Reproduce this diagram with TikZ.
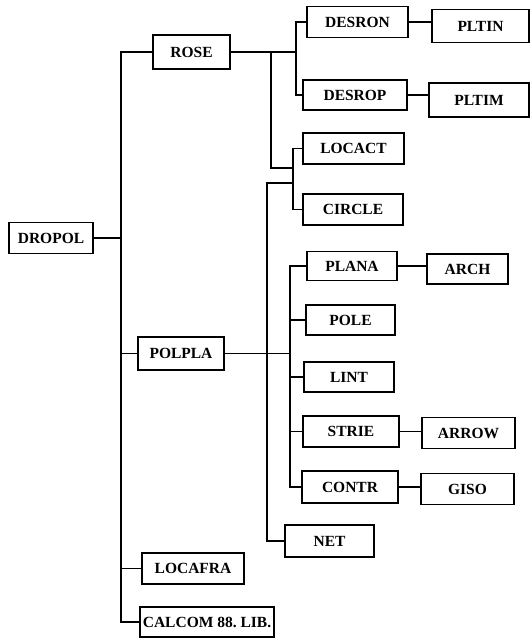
\documentclass[tikz,border=0pt]{standalone}
\usepackage{fontspec}
\setmainfont{Liberation Serif}
\usetikzlibrary{positioning,calc}

\begin{document}
\begin{tikzpicture}[x=1pt,y=-1pt,line width=1.6pt,
 prog/.style={draw,inner sep=0pt,minimum height=31pt,font=\fontsize{15.5}{18}\selectfont\bfseries}]
\useasboundingbox (0,0) rectangle (530,641);
% main level
\node[prog,minimum width=84pt] (dropol) at (51,238) {DROPOL};
\node[prog,minimum width=77pt,minimum height=34pt] (rose) at (191.5,52) {ROSE};
\node[prog,minimum width=86pt,minimum height=33pt] (polpla) at (181,353.5) {POLPLA};
\node[prog,minimum width=102pt] (locafra) at (193,568.5) {LOCAFRA};
\node[prog,minimum width=134pt,minimum height=30pt] (calcom) at (207,622) {CALCOM 88.\ LIB.};
% rose branch
\node[prog,minimum width=101pt] (desron) at (357.5,22) {DESRON};
\node[prog,minimum width=97pt,minimum height=33pt] (pltin) at (480.5,26) {PLTIN};
\node[prog,minimum width=104pt,minimum height=30pt] (desrop) at (355,95) {DESROP};
\node[prog,minimum width=100pt,minimum height=34pt] (pltim) at (479,100) {PLTIM};
\node[prog,minimum width=101pt] (locact) at (353.5,148.5) {LOCACT};
\node[prog,minimum width=100pt] (circ) at (353,209.5) {CIRCLE};
% polpla branch
\node[prog,minimum width=90pt,minimum height=29pt] (plana) at (352,266) {PLANA};
\node[prog,minimum width=81pt,minimum height=30pt] (arch) at (467.5,269) {ARCH};
\node[prog,minimum width=89pt,minimum height=30pt] (pole) at (350.5,320) {POLE};
\node[prog,minimum width=90pt,minimum height=30pt] (lint) at (349,377) {LINT};
\node[prog,minimum width=96pt] (strie) at (351,431.5) {STRIE};
\node[prog,minimum width=93pt] (arrow) at (468.5,433) {ARROW};
\node[prog,minimum width=96pt,minimum height=32pt] (contr) at (350,487) {CONTR};
\node[prog,minimum width=93pt] (giso) at (467.5,489) {GISO};
\node[prog,minimum width=89pt,minimum height=32pt] (net) at (329.5,541) {NET};
% bus lines
\coordinate (t) at (121,0);
\coordinate (rb) at (296,0);
\coordinate (lb) at (293,0);
\coordinate (rd) at (271,168);
\coordinate (pt) at (267,183);
\coordinate (pb) at (290,0);
\draw (dropol) -- (dropol -| t);
\draw (rose.west) -- (rose.west -| t) |- (calcom.west);
\draw (polpla.west) -- (polpla.west -| t); \draw (locafra.west) -- (locafra.west -| t);
\draw (rose.east) -- (rose.east -| rb);
\draw (desron.west) -| (rb |- desrop) -- (desrop.west);
\draw (rose -| rd) -- (rd) -- (rd -| lb);
\draw (locact.west) -| (lb |- circ) -- (circ.west);
\draw (pt -| lb) -- (pt) |- (net.west);
\draw (polpla.east) -- (polpla.east -| pb);
\draw (plana.west) -| (pb |- contr) -- (contr.west);
\foreach \n in {pole,lint,strie} \draw (\n.west) -- (\n.west -| pb);
% second level
\draw (desron) -- (desron -| pltin.west); \draw (desrop) -- (desrop -| pltim.west);
\draw (plana) -- (plana -| arch.west); \draw (strie) -- (strie -| arrow.west);
\draw (contr) -- (contr -| giso.west);
\end{tikzpicture}
\end{document}
